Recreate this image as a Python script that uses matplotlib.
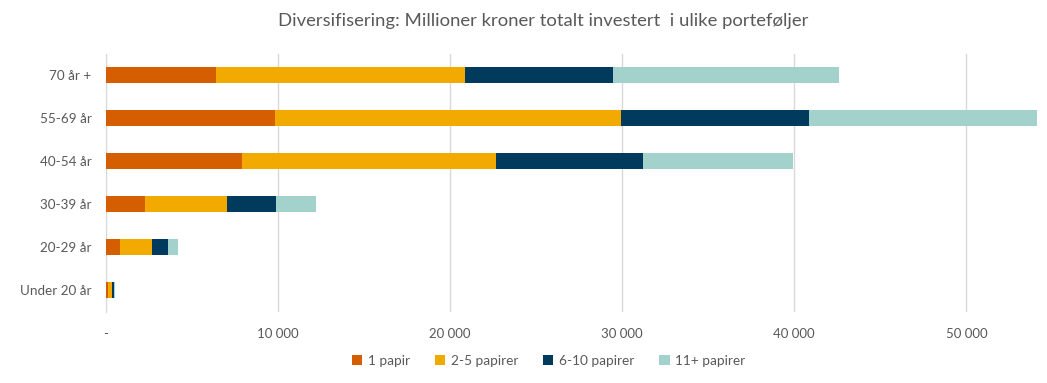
import matplotlib.pyplot as plt
import numpy as np

plt.rcParams['font.family'] = ['Lato', 'DejaVu Sans']

categories = ['70 år +', '55-69 år', '40-54 år', '30-39 år', '20-29 år', 'Under 20 år']
series_names = ['1 papir', '2-5 papirer', '6-10 papirer', '11+ papirer']
one_paper = [6400, 9840, 7930, 2290, 840, 150]
two_to_five = [14460, 20090, 14750, 4760, 1860, 230]
six_to_ten = [8600, 10920, 8540, 2850, 930, 120]
eleven_plus = [13120, 13220, 8710, 2320, 580, 30]
x_ticks = [0, 10000, 20000, 30000, 40000, 50000]
x_tick_labels = ['-', '10 000', '20 000', '30 000', '40 000', '50 000']

colors = ['#D55E00', '#F2A900', '#003A5D', '#A2D2CB']
text_color = '#595959'

fig = plt.figure(figsize=(10.47, 3.83), dpi=100)
ax = fig.add_axes([105.5 / 1047, (383 - 311.5) / 383, (1036.7 - 105.5) / 1047, 258 / 383])

y = np.arange(len(categories))
left = np.zeros(len(categories))
for name, vals, c in zip(series_names, [one_paper, two_to_five, six_to_ten, eleven_plus], colors):
    ax.barh(y, vals, left=left, height=0.39, color=c, label=name, zorder=3)
    left += np.array(vals)

ax.set_ylim(len(categories) - 0.5, -0.5)
ax.set_xlim(0, 54080)
ax.set_yticks(y)
ax.set_yticklabels(categories, fontsize=9.7, color=text_color)
ax.set_xticks(x_ticks)
ax.set_xticklabels(x_tick_labels, fontsize=9.5, color=text_color)
ax.tick_params(axis='both', length=0)
ax.tick_params(axis='y', pad=10)
ax.tick_params(axis='x', pad=12)

ax.grid(axis='x', color='#D9D9D9', linewidth=1, zorder=0)
for s in ['top', 'right', 'bottom']:
    ax.spines[s].set_visible(False)
ax.spines['left'].set_color('#D9D9D9')

fig.text(0.519, 0.945, 'Diversifisering: Millioner kroner totalt investert  i ulike porteføljer',
         ha='center', va='center', fontsize=13.3, color=text_color)

leg = fig.legend(loc='center', bbox_to_anchor=(0.524, 0.057), ncol=4, frameon=False,
                 fontsize=9.8, handlelength=0.75, handleheight=0.75, handletextpad=0.4,
                 columnspacing=1.85)
for t in leg.get_texts():
    t.set_color(text_color)

fig.savefig('out.png', dpi=100)
